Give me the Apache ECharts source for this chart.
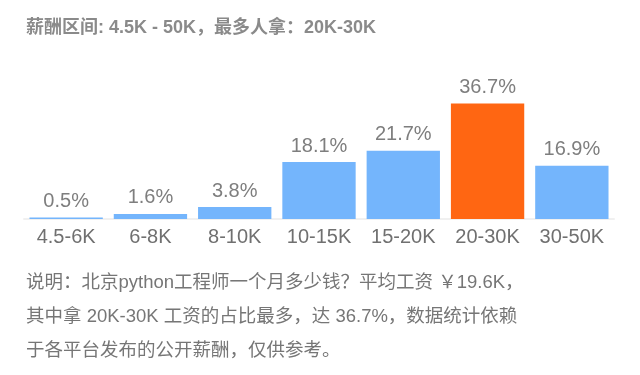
<!DOCTYPE html>
<html>
<head>
<meta charset="utf-8">
<script src="https://cdn.jsdelivr.net/npm/echarts@6/dist/echarts.min.js"></script>
<style>html,body{margin:0;padding:0;background:#fff;}#main{width:640px;height:375px;}</style>
</head>
<body>
<div id="main"></div>
<script>
var categories = ['4.5-6K', '6-8K', '8-10K', '10-15K', '15-20K', '20-30K', '30-50K'];
var percents = [0.5, 1.6, 3.8, 18.1, 21.7, 36.7, 16.9];
var highlightIndex = 5;
var titleText = '薪酬区间: 4.5K - 50K，最多人拿：20K-30K';
var noteLines = [
  '说明：北京python工程师一个月多少钱？平均工资 ￥19.6K，',
  '其中拿 20K-30K 工资的占比最多，达 36.7%，数据统计依赖',
  '于各平台发布的公开薪酬，仅供参考。'
];

var FONT = '"Liberation Sans", "Noto Sans CJK SC", sans-serif';
var chart = echarts.init(document.getElementById('main'), null, {renderer: 'canvas'});
chart.setOption({
  animation: false,
  backgroundColor: '#ffffff',
  title: [
    {
      text: titleText, left: 26, top: 19, padding: 0,
      textStyle: {fontSize: 18, fontWeight: 'bold', color: '#8a8a8a', fontFamily: FONT}
    },
    {
      text: noteLines.join('\n'), left: 26, top: 266, padding: 0,
      textStyle: {fontSize: 18.5, fontWeight: 'normal', color: '#767676', fontFamily: FONT, lineHeight: 34}
    }
  ],
  grid: {left: 24, right: 26, top: 93, bottom: 156, containLabel: false},
  xAxis: {
    type: 'category',
    data: categories,
    axisLine: {show: true, lineStyle: {color: '#f0f0f0', width: 2}},
    axisTick: {show: false},
    axisLabel: {fontSize: 20, color: '#707070', margin: 8, fontFamily: FONT, interval: 0}
  },
  yAxis: {
    type: 'value', min: 0, max: 40,
    show: false,
    splitLine: {show: false}
  },
  series: [{
    type: 'bar',
    data: percents.map(function (v, i) {
      return {value: v, itemStyle: {color: i === highlightIndex ? '#ff6612' : '#74b5fc'}};
    }),
    barCategoryGap: '13%',
    label: {
      show: true, position: 'top', distance: 6,
      formatter: function (p) { return p.value + '%'; },
      fontSize: 20, color: '#7e7e7e', fontFamily: FONT
    }
  }]
});
</script>
</body>
</html>
